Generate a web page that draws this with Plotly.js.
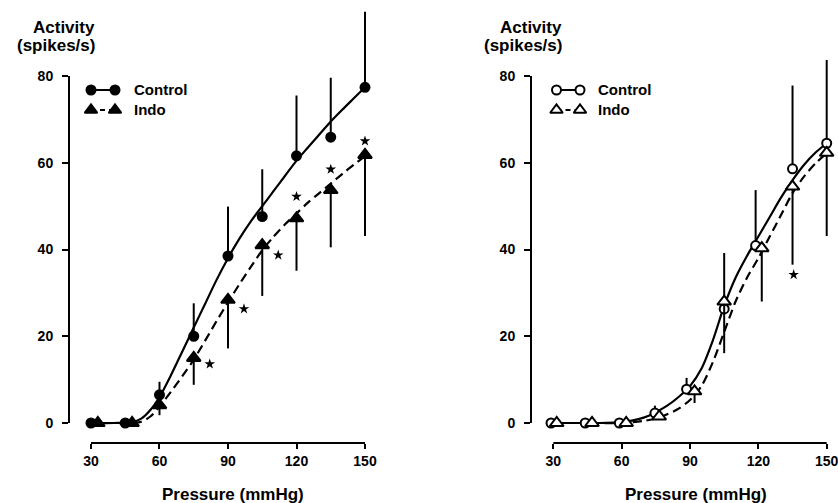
<!DOCTYPE html>
<html>
<head>
<meta charset="utf-8">
<script src="https://cdn.plot.ly/plotly-3.0.1.min.js"></script>
<style>html,body{margin:0;padding:0;background:#fff;}#chart{width:838px;height:503px;}</style>
</head>
<body>
<div id="chart"></div>
<script>
// ---------- Data ----------
const xTickVals = [30, 60, 90, 120, 150];
const yTickVals = [0, 20, 40, 60, 80];

// Left panel
const leftControlX = [30, 45, 60, 75, 90, 105, 120, 135, 150];
const leftControlY = [0, 0, 6.5, 20, 38.5, 47.6, 61.6, 65.9, 77.4];
const leftControlErrUp = [0, 0, 3, 7.6, 11.4, 10.9, 13.9, 13.7, 17.4];
const leftIndoX = [33, 48, 60, 75, 90, 105, 120, 135, 150];
const leftIndoY = [0, 0, 4.1, 15, 28.4, 41, 47.2, 53.7, 61.8];
const leftIndoErrDown = [0, 0, 2.3, 6.2, 11.2, 11.7, 12.1, 13.2, 18.7];
const leftStarX = [82, 97, 112, 120, 135, 150];
const leftStarY = [13.6, 26.3, 38.7, 52.2, 58.5, 65];
const leftFitX = [30, 40, 48, 52, 56, 60, 65, 70, 75, 80, 85, 90, 95, 100, 105, 110, 115, 120, 125, 130, 135, 140, 145, 150];
const leftControlFitY = [0, 0, 0.2, 1, 3, 6, 11, 16.5, 22, 27.5, 33, 38, 42.5, 46.5, 50, 53.5, 57, 60.5, 63.5, 66.5, 69.5, 72.2, 74.8, 77.4];
const leftIndoFitY = [0, 0, 0, 0.3, 1.5, 3.8, 7.2, 10.8, 14.6, 19, 23.5, 27.8, 32, 36, 39.8, 43, 45.8, 48.3, 50.8, 53, 55.2, 57.4, 59.5, 61.5];

// Right panel
const rightControlX = [29, 44, 59, 74.6, 88.5, 105, 118.8, 135, 150];
const rightControlY = [0, 0, 0, 2.3, 7.8, 26.3, 40.9, 58.6, 64.5];
const rightControlErrUp = [0, 0, 0, 1.7, 2.6, 12.9, 12.8, 19.2, 19.2];
const rightIndoX = [31.5, 47, 62, 76.5, 92, 105, 121.5, 135, 150];
const rightIndoY = [0, 0, 0, 1.5, 7.3, 28, 40.3, 54.5, 62.3];
const rightIndoErrDown = [0, 0, 0, 0.8, 2.7, 11.9, 12.3, 18, 19.2];
const rightStarX = [135.5];
const rightStarY = [34.2];
const rightFitX = [28, 40, 50, 60, 65, 70, 75, 80, 85, 90, 95, 100, 105, 110, 115, 120, 125, 130, 135, 140, 145, 150];
const rightControlFitY = [0, 0, 0, 0.2, 0.6, 1.3, 2.5, 4, 6, 8.5, 12.5, 19, 27, 33.5, 38.5, 43, 47.5, 52, 56, 59.5, 62.3, 64.5];
const rightIndoFitY = [0, 0, 0, 0, 0.2, 0.5, 1, 2, 3.3, 5.3, 8.5, 14, 21, 28, 33.5, 38, 43, 48, 53, 56.8, 59.8, 62.2];

const seriesNames = ['Control', 'Indo'];

// ---------- Styling ----------
const FONT = 'Liberation Sans, Arial, Helvetica, sans-serif';
const BLACK = '#000';
const LW = 2.2;

function fitTrace(x, y, dash, xa, ya) {
  return {x: x, y: y, xaxis: xa, yaxis: ya, mode: 'lines', type: 'scatter',
    line: {color: BLACK, width: LW, dash: dash, shape: 'spline', smoothing: 0.8},
    hoverinfo: 'skip', showlegend: false};
}
function pointTrace(x, y, errUp, errDown, symbol, size, fill, xa, ya) {
  return {x: x, y: y, xaxis: xa, yaxis: ya, mode: 'markers', type: 'scatter', cliponaxis: false,
    marker: {symbol: symbol, size: size, color: fill, line: {color: BLACK, width: 2}},
    error_y: {type: 'data', symmetric: false, array: errUp, arrayminus: errDown,
      color: BLACK, thickness: 2, width: 0},
    showlegend: false};
}
function starTrace(x, y, xa, ya) {
  return {x: x, y: y, xaxis: xa, yaxis: ya, mode: 'markers', type: 'scatter', cliponaxis: false,
    marker: {symbol: 'star', size: 8, color: BLACK, line: {width: 0}}, showlegend: false};
}
const zeros = leftControlX.map(() => 0);

const traces = [
  fitTrace(leftFitX, leftControlFitY, 'solid', 'x', 'y'),
  fitTrace(leftFitX, leftIndoFitY, '9px,5px', 'x', 'y'),
  pointTrace(leftControlX, leftControlY, leftControlErrUp, zeros, 'circle', 9, BLACK, 'x', 'y'),
  pointTrace(leftIndoX, leftIndoY, zeros, leftIndoErrDown, 'triangle-up', 12, BLACK, 'x', 'y'),
  starTrace(leftStarX, leftStarY, 'x', 'y'),
  fitTrace(rightFitX, rightControlFitY, 'solid', 'x2', 'y2'),
  fitTrace(rightFitX, rightIndoFitY, '9px,5px', 'x2', 'y2'),
  pointTrace(rightControlX, rightControlY, rightControlErrUp, zeros, 'circle', 9, '#fff', 'x2', 'y2'),
  pointTrace(rightIndoX, rightIndoY, zeros, rightIndoErrDown, 'triangle-up', 12, '#fff', 'x2', 'y2'),
  starTrace(rightStarX, rightStarY, 'x2', 'y2')
];

// ---------- Legend samples (pixel-coordinate overlay axis) ----------
const legendRows = [
  {left: [91, 115], text: 132, y: 90, sym: 'circle', size: 9, dash: 'solid', fill: BLACK, name: seriesNames[0]},
  {left: [91, 115], text: 132, y: 110, sym: 'triangle-up', size: 11, dash: '5px,4px', fill: BLACK, name: seriesNames[1]},
  {left: [556.5, 580], text: 596, y: 90, sym: 'circle', size: 9, dash: 'solid', fill: '#fff', name: seriesNames[0]},
  {left: [556.5, 580], text: 596, y: 110, sym: 'triangle-up', size: 11, dash: '5px,4px', fill: '#fff', name: seriesNames[1]}
];
legendRows.forEach(r => {
  traces.push({x: r.left, y: [r.y, r.y], xaxis: 'x3', yaxis: 'y3', mode: 'lines+markers', type: 'scatter',
    cliponaxis: false, line: {color: BLACK, width: 2, dash: r.dash},
    marker: {symbol: r.sym, size: r.size, color: r.fill, line: {color: BLACK, width: 2}},
    hoverinfo: 'skip', showlegend: false});
});

// ---------- Layout ----------
const PH = 438, TOP = 5;
const yRange = [-4.61, 96.37];
function py(p) { return (TOP + PH - p) / PH; }

const annotations = [];
function ann(text, x, y, anchor, size) {
  annotations.push({text: text, xref: 'paper', yref: 'paper', x: x / 838, y: py(y),
    xanchor: anchor, yanchor: 'middle', showarrow: false,
    font: {family: FONT, size: size, color: BLACK, weight: 'bold'}});
}
ann('Activity', 97, 27, 'right', 17);
ann('(spikes/s)', 97, 46, 'right', 17);
ann('Activity', 564, 27, 'right', 17);
ann('(spikes/s)', 564, 46, 'right', 17);
ann('Pressure (mmHg)', 233, 494, 'center', 17);
ann('Pressure (mmHg)', 696, 494, 'center', 17);
legendRows.forEach(r => ann(r.name, r.text, r.y, 'left', 15));

const axisCommon = {
  showgrid: false, zeroline: false, showline: false, ticks: 'outside', tickwidth: 2, tickcolor: BLACK,
  tickfont: {family: FONT, size: 14, color: BLACK, weight: 'bold'}, fixedrange: true
};

const shapes = [];
[['x', 'y'], ['x2', 'y2']].forEach(([xa, ya]) => {
  shapes.push({type: 'line', xref: xa + ' domain', yref: ya, x0: 0, x1: 0, y0: 0, y1: 80,
    line: {color: BLACK, width: 2}});
  shapes.push({type: 'line', xref: xa, yref: ya + ' domain', x0: 30, x1: 150, y0: 0, y1: 0,
    line: {color: BLACK, width: 2}});
});

const layout = {
  width: 838, height: 503,
  margin: {l: 0, r: 0, t: TOP, b: 503 - TOP - PH, pad: 0},
  paper_bgcolor: '#fff', plot_bgcolor: 'rgba(0,0,0,0)',
  showlegend: false,
  xaxis: Object.assign({}, axisCommon, {domain: [69 / 838, 375 / 838], range: [20.37, 154.38],
    tickvals: xTickVals, ticklen: 5, anchor: 'y'}),
  yaxis: Object.assign({}, axisCommon, {domain: [0, 1], range: yRange, tickvals: yTickVals,
    ticklen: 6, anchor: 'x', ticklabelstandoff: 6}),
  xaxis2: Object.assign({}, axisCommon, {domain: [531 / 838, 1], range: [20.21, 154.96],
    tickvals: xTickVals, ticklen: 5, anchor: 'y2', ticklabeloverflow: 'allow'}),
  yaxis2: Object.assign({}, axisCommon, {domain: [0, 1], range: yRange, tickvals: yTickVals,
    ticklen: 6, anchor: 'x2', ticklabelstandoff: 6}),
  xaxis3: {domain: [0, 1], range: [0, 838], visible: false, anchor: 'y3', fixedrange: true},
  yaxis3: {domain: [0, 1], range: [TOP + PH, TOP], visible: false, anchor: 'x3', fixedrange: true},
  shapes: shapes,
  annotations: annotations
};

Plotly.newPlot('chart', traces, layout, {displayModeBar: false, staticPlot: true});
</script>
</body>
</html>
